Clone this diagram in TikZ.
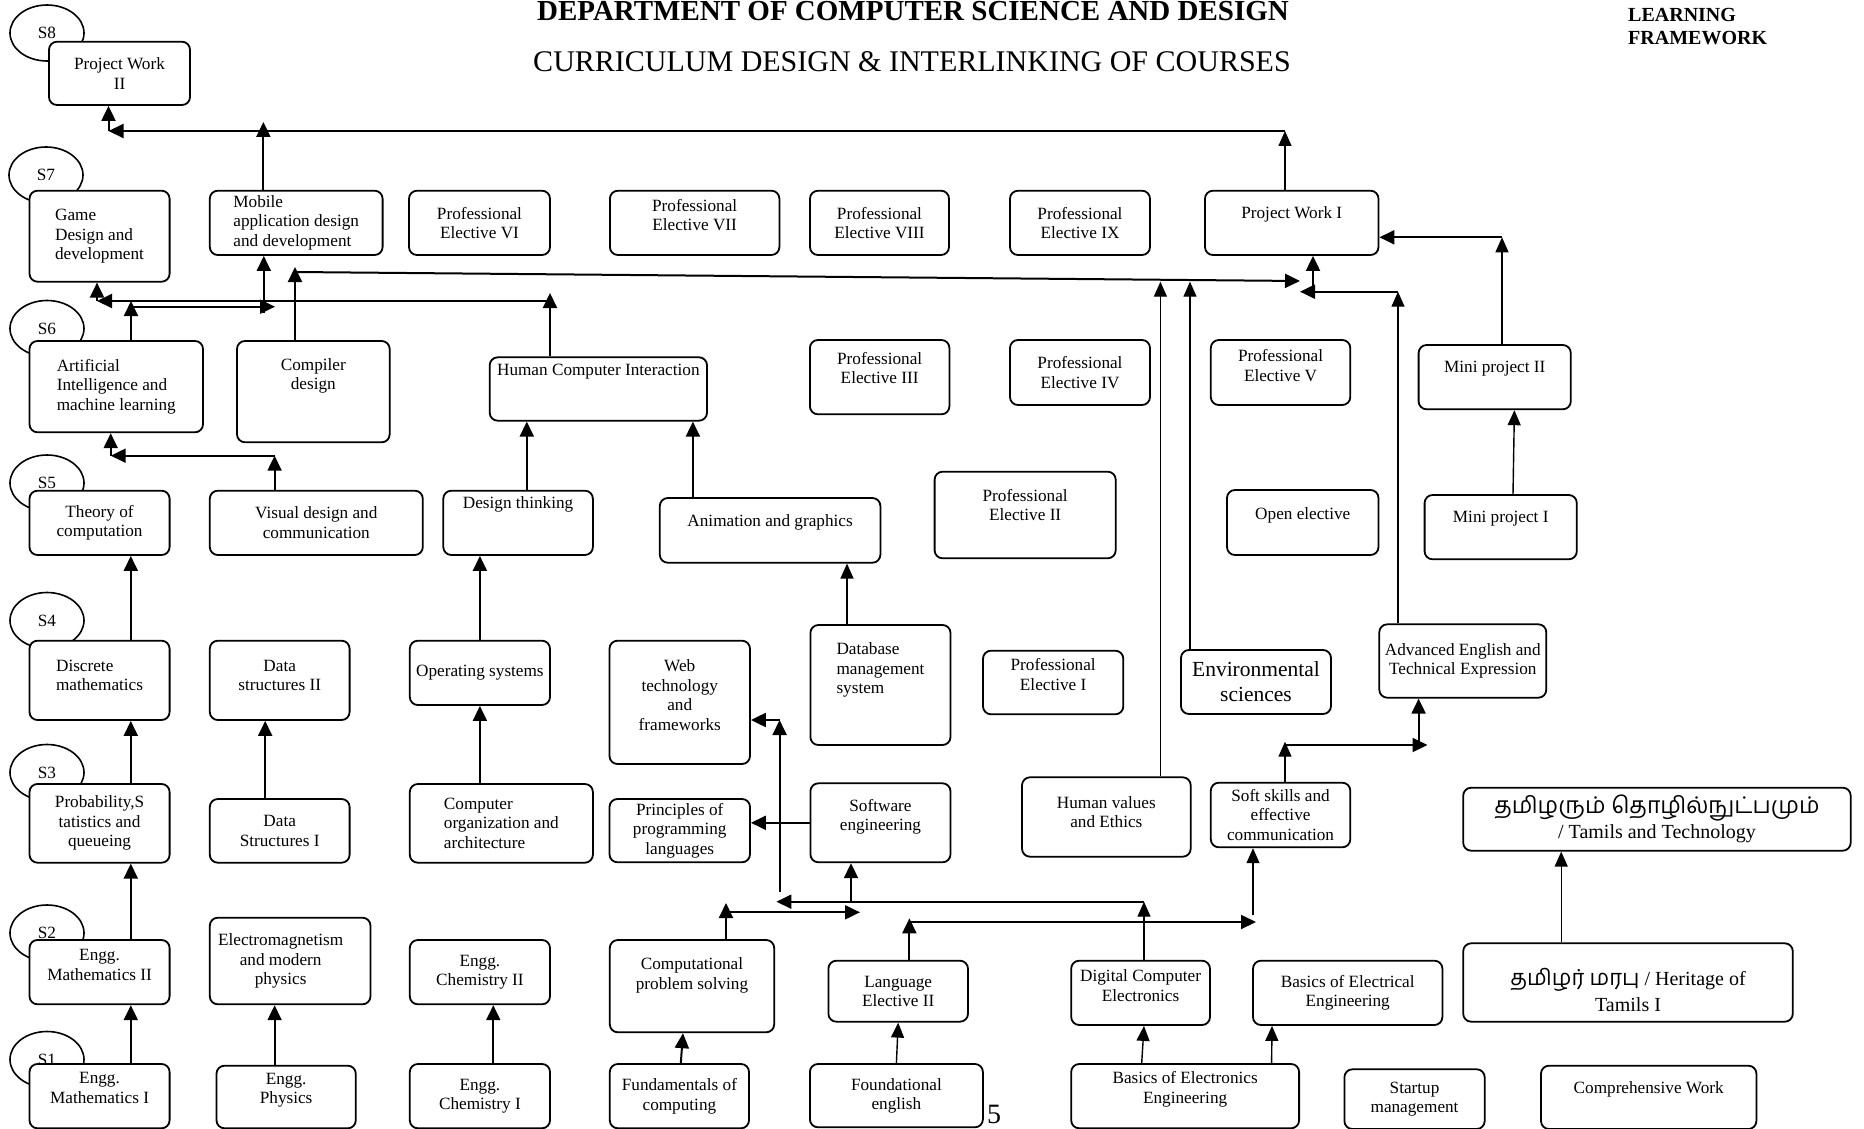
\documentclass[tikz,border=0pt]{standalone}
\usepackage{fontspec}
\setmainfont{Liberation Serif}
\newfontfamily\tamilfont[Script=Tamil]{Hind Madurai}
\usetikzlibrary{arrows.meta,shapes.geometric}
\newcommand\crs{\fontsize{17.2}{19.5}\selectfont}

\begin{document}
\begin{tikzpicture}[x=1pt,y=-1pt,
  course/.style={draw,rounded corners=8pt,line width=1.8pt,fill=white,inner sep=0pt,align=center,font=\crs},
  sz/.style 2 args={minimum width=#1pt,minimum height=#2pt},
  txtup/.style 2 args={label={[yshift=#1pt]center:{#2}}},
  txtupl/.style 2 args={label={[yshift=#1pt,align=left]center:{#2}}},
  sem/.style={draw,ellipse,line width=1.6pt,minimum width=74pt,minimum height=56pt,inner sep=0pt,font=\crs},
  link/.style={line width=2pt,-{Triangle[length=15pt,width=14pt]}},
  thin link/.style={line width=1.4pt,-{Triangle[length=15pt,width=13pt]}},
  every label/.style={align=center,inner sep=0pt,font=\crs}]
  \useasboundingbox (0,0) rectangle (1864,1129);
  % titles
  \node[font=\fontsize{29}{33}\selectfont\bfseries,anchor=base] (dept) at (913,21) {DEPARTMENT OF COMPUTER SCIENCE AND DESIGN};
  \node[font=\fontsize{30}{34}\selectfont,anchor=base] (curr) at (912,71.7) {CURRICULUM DESIGN \& INTERLINKING OF COURSES};
  \node[font=\fontsize{20}{22.3}\selectfont\bfseries,align=left,anchor=north west,inner sep=0pt] (frame) at (1628,8.3) {LEARNING\\FRAMEWORK};
  % semester 8
  \node[sem] (s8) at (47,33) {S8};
  \node[course,sz={141}{63.3}] (pw2) at (119.5,73.35) {Project Work\\II};
  % semester 7
  \node[sem] (s7) at (46,175) {S7};
  \node[course,sz={140.1}{91},align=left] (game) at (99.55,236.2) {Game\\Design and\\development};
  \node[course,sz={172.8}{64.3},align=left] (mob) at (296.2,222.85) {Mobile\\application design\\and development};
  \node[course,sz={141}{64.3}] (pe6) at (479.5,222.85) {Professional\\Elective VI};
  \node[course,sz={169.5}{64.3},txtup={8}{Professional\\Elective VII}] (pe7) at (694.65,222.85) {};
  \node[course,sz={139}{64.3}] (pe8) at (879.5,222.85) {Professional\\Elective VIII};
  \node[course,sz={140}{64.3}] (pe9) at (1080,222.85) {Professional\\Elective IX};
  \node[course,sz={173.5}{64.3},txtup={8}{Project Work I}] (pw1) at (1291.75,222.85) {};
  % semester 6
  \node[sem] (s6) at (47,328.5) {S6};
  \node[course,sz={173.5}{91.3},align=left] (ai) at (116.25,386.65) {Artificial\\Intelligence and\\machine learning};
  \node[course,sz={152.7}{101.3},txtup={16}{Compiler\\design}] (comp) at (313.35,391.65) {};
  \node[course,sz={217.3}{63.4},txtup={17}{Human Computer Interaction}] (hci) at (598.35,389) {};
  \node[course,sz={139.5}{74.3},txtup={9}{Professional\\Elective III}] (pe3) at (879.65,377.15) {};
  \node[course,sz={140}{65}] (pe4) at (1080,372.5) {Professional\\Elective IV};
  \node[course,sz={139.5}{65},txtup={7}{Professional\\Elective V}] (pe5) at (1280.55,372.5) {};
  \node[course,sz={152.2}{64.3},txtup={9}{Mini project II}] (mp2) at (1494.7,377.15) {};
  % semester 5
  \node[sem] (s5) at (47,483) {S5};
  \node[course,sz={140.1}{64.3}] (toc) at (99.55,522.85) {Theory of\\computation};
  \node[course,sz={213}{64.3}] (vis) at (316.3,522.85) {Visual design and\\communication};
  \node[course,sz={149.6}{64.3},txtup={18}{Design thinking}] (dt) at (518.1,522.85) {};
  \node[course,sz={220.6}{64.7},txtup={8}{Animation and graphics}] (anim) at (770.1,530.35) {};
  \node[course,sz={181.1}{86.6},txtup={10}{Professional\\Elective II}] (pe2) at (1025.15,515) {};
  \node[course,sz={151.5}{65},txtup={7.5}{Open elective}] (oe) at (1302.75,522.5) {};
  \node[course,sz={152.2}{64.3},txtup={9}{Mini project I}] (mp1) at (1500.7,527.15) {};
  % semester 4
  \node[sem] (s4) at (47,620.5) {S4};
  \node[course,sz={140.1}{79.3},txtupl={5}{Discrete\\mathematics}] (dm) at (99.55,680.35) {};
  \node[course,sz={139.8}{79.3},txtup={5}{Data\\structures II}] (ds2) at (279.7,680.35) {};
  \node[course,sz={140.2}{64.3}] (os) at (479.9,672.85) {Operating systems};
  \node[course,sz={140.5}{123.3},txtup={7}{Web\\technology\\and\\frameworks}] (web) at (679.75,702.35) {};
  \node[course,sz={140.1}{120},txtupl={15}{Database\\management\\system}] (db) at (880.45,685) {};
  \node[course,sz={140.3}{63.6},txtup={8}{Professional\\Elective I}] (pe1) at (1053.15,682.5) {};
  \node[course,sz={150}{64},font=\fontsize{21.5}{25}\selectfont] (env) at (1256,682) {Environmental\\sciences};
  \node[course,sz={167}{73.4}] (ae) at (1462.8,661) {Advanced English and\\Technical Expression};
  % semester 3
  \node[sem] (s3) at (47,772.5) {S3};
  \node[course,sz={140.1}{78.7}] (prob) at (99.55,823.35) {Probability,S\\tatistics and\\queueing};
  \node[course,sz={139.8}{63.7}] (ds1) at (279.7,830.85) {Data\\Structures I};
  \node[course,sz={183.1}{78.7},align=left] (coa) at (501.35,823.35) {Computer\\organization and\\architecture};
  \node[course,sz={140.5}{63.3}] (ppl) at (679.75,830.65) {Principles of\\programming\\languages};
  \node[course,sz={140.1}{79},txtup={6}{Software\\engineering}] (se) at (880.45,822.8) {};
  \node[course,sz={168.7}{79.4},txtup={5}{Human values\\and Ethics}] (hv) at (1106.35,817) {};
  \node[course,sz={139.5}{64.6}] (soft) at (1280.55,815) {Soft skills and\\effective\\communication};
  \node[course,sz={387.5}{63},font=\fontsize{20}{25}\selectfont] (tt) at (1656.95,819.2) {{\tamilfont\fontsize{23}{25}\selectfont தமிழரும் தொழில்நுட்பமும்}\\/ Tamils and Technology};
  % semester 2
  \node[sem] (s2) at (47,933) {S2};
  \node[course,sz={140.1}{64.3},txtup={7}{Engg.\\Mathematics II}] (em2) at (99.55,972.15) {};
  \node[course,sz={160.7}{86.6},label={[xshift=-9.5pt]center:{Electromagnetism\\and modern\\physics}}] (emmp) at (290.15,961) {};
  \node[course,sz={140.2}{64.3}] (ch2) at (479.9,972.15) {Engg.\\Chemistry II};
  \node[course,sz={164.4}{92.3},txtup={11}{Computational\\problem solving}] (cps) at (692,986.15) {};
  \node[course,sz={139.6}{61}] (le2) at (898.2,991.2) {Language\\Elective II};
  \node[course,sz={138.8}{64.3},txtup={7}{Digital Computer\\Electronics}] (dce) at (1140.6,992.85) {};
  \node[course,sz={189.4}{64.3}] (bel) at (1347.7,992.85) {Basics of Electrical\\Engineering};
  \node[course,sz={329.6}{78.4},label={[yshift=-7.5pt,font=\fontsize{20}{26.7}\selectfont]center:{{\tamilfont\fontsize{22}{26.7}\selectfont தமிழர் மரபு} / Heritage of\\Tamils I}}] (her) at (1628,982.5) {};
  % semester 1
  \node[sem] (s1) at (47,1059.5) {S1};
  \node[course,sz={140.1}{64.3},txtup={8}{Engg.\\Mathematics I}] (em1) at (99.55,1096.15) {};
  \node[course,sz={139.3}{62.6},txtup={7}{Engg.\\Physics}] (phy) at (286.15,1097) {};
  \node[course,sz={140.2}{64.3}] (ch1) at (479.9,1096.15) {Engg.\\Chemistry I};
  \node[course,sz={139.2}{64.3}] (fc) at (679.4,1096.15) {Fundamentals of\\computing};
  \node[course,sz={173}{63.3}] (fe) at (896.4,1095.65) {Foundational\\english};
  \node[course,sz={227.9}{64.3},txtup={7}{Basics of Electronics\\Engineering}] (bee) at (1185.15,1096.15) {};
  \node[course,sz={140.3}{59.7}] (sm) at (1414.55,1099.15) {Startup\\management};
  \node[course,sz={215.4}{63.3},txtup={8}{Comprehensive Work}] (cw) at (1648.7,1097.35) {};
  \node[font=\fontsize{28}{30}\selectfont,anchor=base] (pg) at (994,1123.3) {5};
  % into project work II
  \coordinate (pwbus) at (108.5,131);
  \coordinate (pw1up) at (1285,131);
  \coordinate (mobup) at (263.4,122);
  \draw[thin link] (pw1up |- pw1.north) -- (pw1up);
  \draw[link] (pw1up) -- (pwbus);
  \draw[link] (pwbus) -- (pwbus |- pw2.south);
  \draw[link] (mobup |- mob.north) -- (mobup);
  % into game design and mobile
  \coordinate (gbus) at (97,301);
  \coordinate (hciup) at (550,293);
  \coordinate (aiup) at (131,301);
  \coordinate (aimob) at (275,306.7);
  \coordinate (mobin) at (263.8,313);
  \draw[link] (hciup |- hci.north) -- (hciup);
  \draw[link] (hciup |- gbus) -- (gbus);
  \draw[link] (gbus) -- (gbus |- game.south);
  \draw[link] (aiup |- ai.north) -- (aiup);
  \draw[link] (aiup |- aimob) -- (aimob);
  \draw[link] (mobin) -- (mobin |- mob.south);
  % into project work I
  \coordinate (compup) at (295,267);
  \coordinate (compbus) at (295,272);
  \coordinate (pw1bus) at (1300,281);
  \coordinate (pw1in) at (1313,290);
  \coordinate (hvup) at (1160.4,281.7);
  \coordinate (envup) at (1190,281.7);
  \coordinate (aeup) at (1398,291.7);
  \coordinate (aepw) at (1300,291.7);
  \coordinate (mp2up) at (1502,237.3);
  \draw[link] (compup |- comp.north) -- (compup);
  \draw[link] (compbus) -- (pw1bus);
  \draw[link] (pw1in) -- (pw1in |- pw1.south);
  \draw[thin link] (hvup |- hv.north) -- (hvup);
  \draw[thin link] (envup |- env.north) -- (envup);
  \draw[thin link] (aeup |- ae.north) -- (aeup);
  \draw[link] (aeup) -- (aepw);
  \draw[thin link] (mp2up |- mp2.north) -- (mp2up);
  \draw[link] (mp2up) -- (pw1.east |- mp2up);
  \coordinate (mpfrom) at (1513,495);
  \coordinate (mpto) at (1514.4,409);
  \draw[thin link] (mpfrom |- mp1.north) -- (mpto |- mp2.south);
  % into AI and HCI
  \coordinate (visup) at (274.6,455.7);
  \coordinate (aiin) at (110.7,455.7);
  \coordinate (hcidt) at (526.8,420.7);
  \coordinate (hcian) at (692.9,420.7);
  \draw[link] (visup |- vis.north) -- (visup);
  \draw[link] (visup) -- (aiin);
  \draw[link] (aiin) -- (aiin |- ai.south);
  \draw[link] (hcidt |- dt.north) -- (hcidt |- hci.south);
  \draw[link] (hcian |- anim.north) -- (hcian |- hci.south);
  % straight links
  \coordinate (col1) at (130.8,0);
  \coordinate (dsx) at (265.2,0);
  \coordinate (dbx) at (847,0);
  \draw[link] (col1 |- dm.north) -- (col1 |- toc.south);
  \draw[link] (col1 |- prob.north) -- (col1 |- dm.south);
  \draw[link] (col1 |- em2.north) -- (col1 |- prob.south);
  \draw[link] (col1 |- em1.north) -- (col1 |- em2.south);
  \draw[link] (dsx |- ds1.north) -- (dsx |- ds2.south);
  \draw[link] (os.north) -- (os.north |- dt.south);
  \draw[link] (os.south |- coa.north) -- (os.south);
  \draw[thin link] (dbx |- db.north) -- (dbx |- anim.south);
  \draw[link] (se.west) -- (se.west -| ppl.east);
  % from digital computer electronics
  \coordinate (dceup) at (1144,901.7);
  \coordinate (webbus) at (776.4,901.7);
  \coordinate (sein) at (851,901.7);
  \coordinate (webup) at (779.6,891.7);
  \coordinate (webin) at (779.6,720);
  \draw[thin link] (dceup |- dce.north) -- (dceup);
  \draw[link] (dceup) -- (webbus);
  \draw[link] (sein) -- (sein |- se.south);
  \draw[link] (webup) -- (webin);
  \draw[link] (webin) -- (web.east |- webin);
  % from computational problem solving
  \coordinate (cpsup) at (726,903);
  \coordinate (cpsbus) at (726,912.3);
  \coordinate (cpsse) at (860,912.3);
  \draw[link] (cpsup |- cps.north) -- (cpsup);
  \draw[link] (cpsbus) -- (cpsse);
  % from language elective II
  \coordinate (leup) at (909.4,918.3);
  \coordinate (lebus) at (909.4,922);
  \coordinate (lesoft) at (1256,922);
  \coordinate (softin) at (1253,915);
  \draw[link] (leup |- le2.north) -- (leup);
  \draw[link] (lebus) -- (lesoft);
  \draw[thin link] (softin) -- (softin |- soft.south);
  % from soft skills
  \coordinate (softup) at (1285,741.7);
  \coordinate (softbus) at (1285,745);
  \coordinate (aebus) at (1427.5,745);
  \coordinate (aein) at (1418.6,745);
  \draw[thin link] (softup |- soft.north) -- (softup);
  \draw[link] (softbus) -- (aebus);
  \draw[link] (aein) -- (aein |- ae.south);
  % first semester links
  \coordinate (phyx) at (274.6,0);
  \coordinate (chx) at (493.3,0);
  \coordinate (fcx) at (680.8,0);
  \coordinate (cpsx) at (683,0);
  \coordinate (beex) at (1141.7,0);
  \coordinate (belx) at (1271.6,0);
  \coordinate (belto) at (1272,0);
  \coordinate (herx) at (1561.2,0);
  \draw[link] (phyx |- phy.north) -- (phyx |- emmp.south);
  \draw[link] (chx |- ch1.north) -- (chx |- ch2.south);
  \draw[link] (fcx |- fc.north) -- (cpsx |- cps.south);
  \draw[thin link] (fe.north) -- (le2.south);
  \draw[thin link] (beex |- bee.north) -- (dceup |- dce.south);
  \draw[thin link] (belx |- bee.north) -- (belto |- bel.south);
  \draw[thin link] (herx |- her.north) -- (herx |- tt.south);
\end{tikzpicture}
\end{document}
